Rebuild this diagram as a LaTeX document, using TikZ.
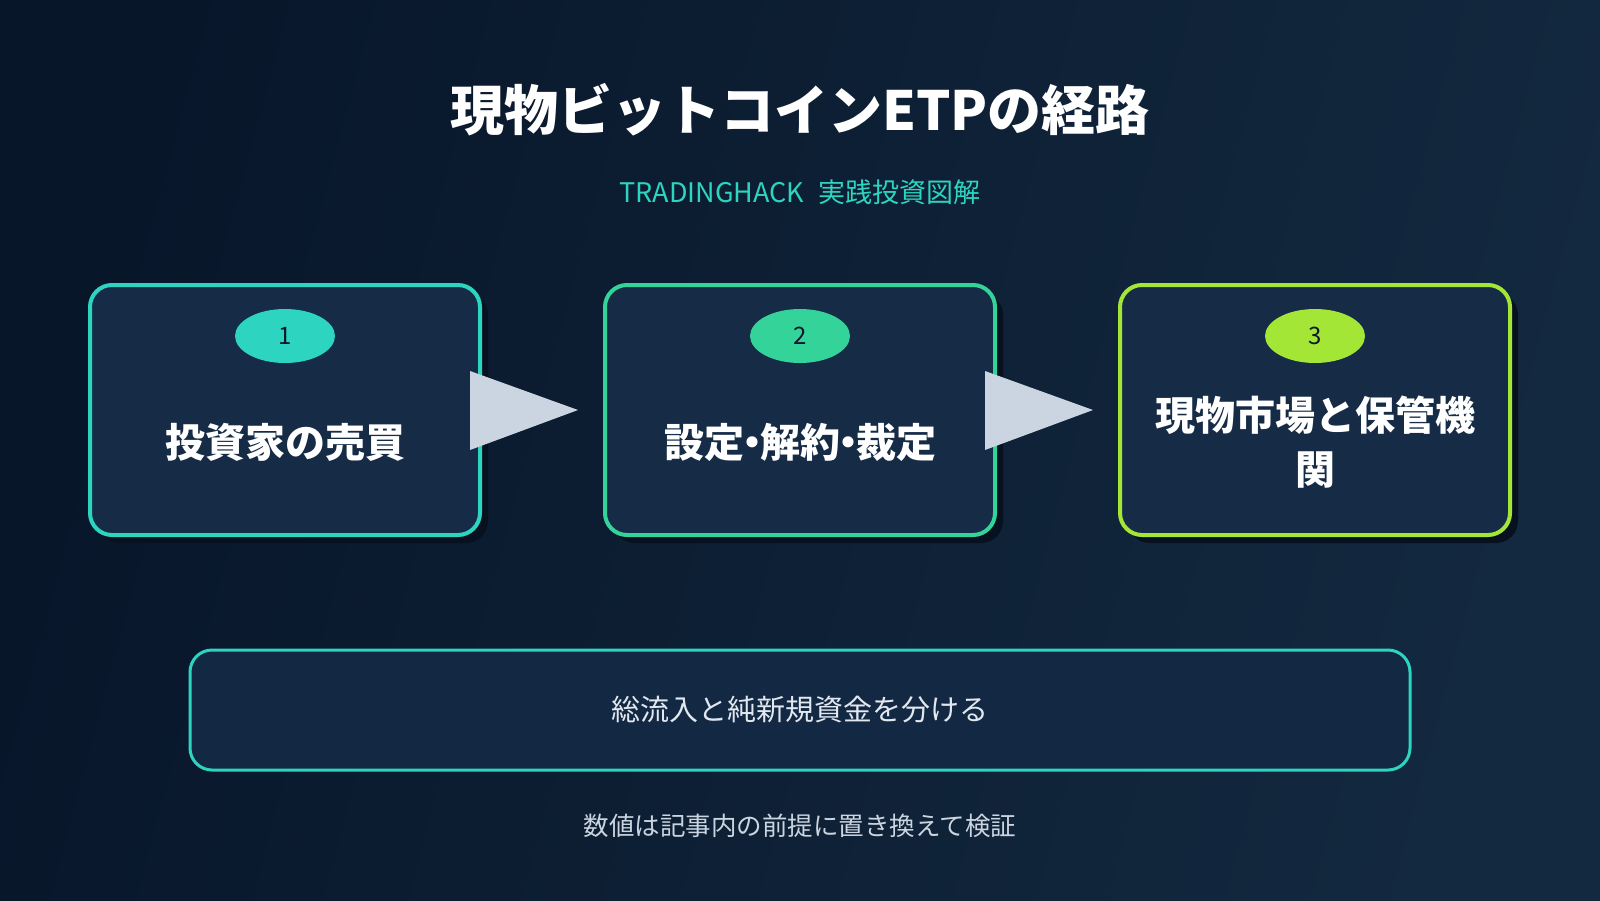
\documentclass[tikz,border=0pt]{standalone}
\usepackage{fontspec}
\setmainfont{Noto Sans CJK JP}
\usetikzlibrary{shapes.geometric,calc}
\definecolor{bgL}{HTML}{08162A}
\definecolor{bgR}{HTML}{13293F}
\definecolor{cardfill}{HTML}{162B46}
\definecolor{shadowc}{HTML}{07111F}
\definecolor{cA}{HTML}{2DD4BF}
\definecolor{cB}{HTML}{34D399}
\definecolor{cC}{HTML}{A3E635}
\definecolor{arrowc}{HTML}{CBD5E1}
\definecolor{numtext}{HTML}{0F172A}
\definecolor{softtext}{HTML}{E2E8F0}
\definecolor{foottext}{HTML}{CBD5E1}
\definecolor{notefill}{HTML}{132842}
\tikzset{
  card/.style={draw=#1, line width=4pt, fill=cardfill, rounded corners=22pt,
    minimum width=390pt, minimum height=250pt, inner sep=0pt},
  cardshadow/.style={fill=shadowc, rounded corners=22pt},
  badge/.style={ellipse, fill=#1, minimum width=100pt, minimum height=54pt,
    inner sep=0pt, text=numtext, font=\fontsize{24}{28}\selectfont},
  cardtext/.style={text=white, font=\bfseries\fontsize{40}{54}\selectfont,
    align=center, text width=360pt},
  flowarrow/.style={fill=arrowc},
}
\begin{document}
\begin{tikzpicture}[x=1pt,y=-1pt]
\useasboundingbox (0,0) rectangle (1600,900);
\shade[left color=bgL, right color=bgR, shading angle=75] (0,0) rectangle (1600,900);

% title
\node[text=white, font=\bfseries\fontsize{54}{64}\selectfont] (title) at (800,110) {現物ビットコインETPの経路};
\node[text=cA, font=\fontsize{27}{30}\selectfont] (sub) at (800,192) {TRADINGHACK\hspace{14pt}実践投資図解};

% shadows
\foreach \cx in {285,800,1315}{
  \fill[cardshadow] (\cx-195+8,285+8) rectangle (\cx+195+8,535+8);
}
% cards
\node[card=cA] (b1) at (285,410) {};
\node[card=cB] (b2) at (800,410) {};
\node[card=cC] (b3) at (1315,410) {};

\node[badge=cA] (n1) at (285,336) {1};
\node[badge=cB] (n2) at (800,336) {2};
\node[badge=cC] (n3) at (1315,336) {3};

\node[cardtext] (t1) at (285,442) {投資家の売買};
\node[cardtext] (t2) at (800,442) {設定\kern-12pt・\kern-12pt解約\kern-12pt・\kern-12pt裁定};
\node[cardtext] (t3) at (1315,442) {現物市場と保管機\\関};

% arrows
\fill[flowarrow] ($(b1.east)+(-12,-39)$) -- ($(b1.east)+(-12,40)$) -- ($(b2.west)+(-25,0)$) -- cycle;
\fill[flowarrow] ($(b2.east)+(-12,-39)$) -- ($(b2.east)+(-12,40)$) -- ($(b3.west)+(-25,0)$) -- cycle;

% note box
\node[draw=cA, line width=3pt, fill=notefill, rounded corners=22pt,
  minimum width=1220pt, minimum height=120pt, text=softtext,
  font=\fontsize{29}{34}\selectfont] (note) at (800,710) {総流入と純新規資金を分ける};

\node[text=foottext, font=\fontsize{25.5}{30}\selectfont] (foot) at (800,826) {数値は記事内の前提に置き換えて検証};
\end{tikzpicture}
\end{document}
